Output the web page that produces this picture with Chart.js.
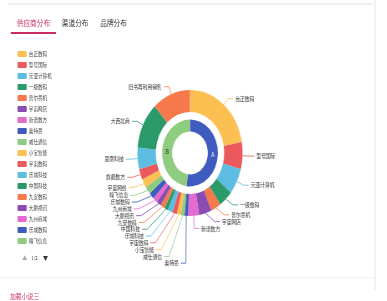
<!DOCTYPE html>
<html><head><meta charset="utf-8">
<script src="https://cdn.jsdelivr.net/npm/chart.js@4.4.1/dist/chart.umd.min.js"></script>
<style>
html,body{margin:0;padding:0;background:#fff;overflow:hidden;width:387px;height:301px}
#wrap{position:absolute;left:0;top:0;width:464px;height:301px;transform:scaleX(0.835);transform-origin:0 0;font-family:"Noto Sans CJK SC","Noto Sans",sans-serif;color:#333}
.abs{position:absolute}
#topline{left:10px;top:3px;width:436px;height:2px;background:#eeeeee}
#rightline{left:448px;top:0;width:2px;height:290px;background:#f0f0f0}
#botline{left:0;top:277px;width:448px;height:1px;background:#f0f0f0}
.tab{top:18px;font-size:8px;line-height:10px;white-space:nowrap}
#under{left:13px;top:32px;width:54px;height:1.5px;background:#c92f5e}
.lg{left:21px;width:11px;height:6px;border-radius:1px}
.lt{left:34.5px;font-size:5.5px;line-height:7px;white-space:nowrap;color:#444}
.pg{font-size:6px;line-height:8px;white-space:nowrap}
#bottom{left:12px;top:291px;font-size:7px;line-height:10px;color:#c92f5e;white-space:nowrap}
canvas{position:absolute;left:0;top:0}
</style></head>
<body><div id="wrap">
<div id="topline" class="abs"></div>
<div id="rightline" class="abs"></div>
<div id="botline" class="abs"></div>
<div id="tabs"></div>
<div id="under" class="abs"></div>
<div id="legend"></div>
<div id="bottom" class="abs">加载小说三</div>
<canvas id="c" width="464" height="301" style="width:464px;height:301px"></canvas>
</div>
<script>
// ---- data ----
const tabNames = ["供应商分布", "渠道分布", "品牌分布"];
const categories = ["台正数码","型号国际","元亚计算机","一级数码","普尔曼机","宇宙网店","新谱数方","奥特曼","威仕通信","小宝智能","宇宙数码","乐城科技","中国科技","九安数码","大鹏视讯","九州商城","乐城数码","翰飞信息","宇宙网络","旗舰数方","思南科技","大西北商","旧书再利用销售"];
const values = [800,250,240,160,110,140,120,40,40,45,50,55,40,50,50,50,60,70,80,100,200,430,420];
const innerCategories = ["A","B"];
const innerValues = [187,173];
const palette = ["#fcc052","#ea5a5c","#5cbde0","#2b9a6b","#f6794b","#8a4bb2","#e46bcd","#3f5bbf","#8fcc7f"];
const innerColors = ["#3f5bbf","#8fcc7f"];
const legendPageSize = 18;
const pagerText = "1/2";

const colors = categories.map((_, i) => palette[i % palette.length]);

// ---- tabs & legend (HTML) ----
const tabX = [20, 74, 120];
const tabs = document.getElementById('tabs');
tabNames.forEach((t, i) => {
  const d = document.createElement('div');
  d.className = 'abs tab'; d.style.left = tabX[i] + 'px';
  d.style.color = i === 0 ? '#c92f5e' : '#333';
  d.textContent = t; tabs.appendChild(d);
});
const legend = document.getElementById('legend');
for (let i = 0; i < Math.min(legendPageSize, categories.length); i++) {
  const y = 54.3 + i * 11.0;
  const b = document.createElement('div');
  b.className = 'abs lg'; b.style.top = (y - 3) + 'px'; b.style.background = colors[i];
  legend.appendChild(b);
  const t = document.createElement('div');
  t.className = 'abs lt'; t.style.top = (y - 3.5) + 'px'; t.textContent = categories[i];
  legend.appendChild(t);
}
const py = 54.3 + legendPageSize * 11.0 + 6;
[["▲", 26.5, "#aaa", 6], [pagerText, 37.5, "#333", 5], ["▼", 51.5, "#333", 6]].forEach(([s, x, c, f]) => {
  const e = document.createElement('div');
  e.className = 'abs pg'; e.style.left = x + 'px'; e.style.top = (py - 4) + 'px';
  e.style.color = c; e.style.fontSize = f + 'px'; e.textContent = s;
  legend.appendChild(e);
});

// ---- chart ----
const L1 = 8, L2 = 6, GAP = 2.5, LH = 6.8, FONT = 5.7;
const labelPlugin = {
  id: 'pieLabels',
  afterDatasetsDraw(chart) {
    const ctx = chart.ctx;
    const arcs = chart.getDatasetMeta(0).data;
    const cx = arcs[0].x, cy = arcs[0].y, r = arcs[0].outerRadius;
    const items = arcs.map((a, i) => {
      const mid = (a.startAngle + a.endAngle) / 2, ux = Math.cos(mid), uy = Math.sin(mid);
      const dir = ux < 0 ? -1 : 1;
      return { i, dir, p0x: cx + ux * r, p0y: cy + uy * r, x: cx + ux * (r + L1) + dir * L2, y: cy + uy * (r + L1) };
    });
    for (const side of [-1, 1]) {
      const list = items.filter(t => t.dir === side).sort((a, b) => a.y - b.y);
      let last = -Infinity, adjusted = false;
      for (const t of list) {
        const top = t.y - LH / 2;
        if (top < last) { t.y += last - top; adjusted = true; }
        last = t.y + LH / 2;
      }
      if (adjusted && list.length > 1) {
        const rA = r + L1;
        const semis = [{ list: [], maxY: 0, rB: rA }, { list: [], maxY: 0, rB: rA }];
        for (const t of list) {
          const s = t.y > cy ? semis[1] : semis[0];
          const dy = Math.abs(t.y - cy);
          if (dy >= s.maxY) {
            const dx = t.x - cx - L2 * side;
            s.rB = Math.abs(dx) < rA ? Math.sqrt(dy * dy / (1 - dx * dx / rA / rA)) : rA;
            if (!(s.rB >= dy)) s.rB = Math.max(dy, rA);
            s.maxY = dy;
          }
          s.list.push(t);
        }
        for (const s of semis) for (const t of s.list) {
          const dy = Math.abs(t.y - cy);
          const dx = Math.sqrt(Math.max(0, 1 - dy * dy / (s.rB * s.rB)) * rA * rA);
          t.x = cx + (dx + L2) * side;
        }
      }
    }
    ctx.save();
    ctx.lineWidth = 0.8;
    ctx.font = FONT + 'px "Noto Sans CJK SC"';
    ctx.textBaseline = 'middle';
    items.forEach(t => {
      ctx.strokeStyle = colors[t.i];
      ctx.beginPath();
      ctx.moveTo(t.p0x, t.p0y);
      ctx.lineTo(t.x - t.dir * L2, t.y);
      ctx.lineTo(t.x, t.y);
      ctx.stroke();
      ctx.fillStyle = '#333';
      ctx.textAlign = t.dir < 0 ? 'right' : 'left';
      ctx.fillText(categories[t.i], t.x + t.dir * GAP, t.y);
    });
    // inner labels
    const inner = chart.getDatasetMeta(2).data;
    ctx.font = '6px "Noto Sans CJK SC"';
    ctx.textAlign = 'center';
    inner.forEach((a, i) => {
      const mid = (a.startAngle + a.endAngle) / 2, rr = (a.innerRadius + a.outerRadius) / 2;
      ctx.fillStyle = i === 0 ? '#fff' : '#333';
      ctx.fillText(innerCategories[i], a.x + Math.cos(mid) * rr, a.y + Math.sin(mid) * rr);
    });
    ctx.restore();
  }
};

const cxU = 227.5, cyU = 153, R = 63, W = 464, H = 301;
new Chart(document.getElementById('c'), {
  type: 'doughnut',
  data: {
    labels: categories,
    datasets: [
      { data: values, backgroundColor: colors, borderWidth: 0, weight: 22, hoverOffset: 0, offset: 0 },
      { data: [1], backgroundColor: ['rgba(0,0,0,0)'], borderWidth: 0, weight: 7.5, hoverOffset: 0, offset: 0 },
      { data: innerValues, backgroundColor: innerColors, borderWidth: 0, weight: 12, hoverOffset: 0, offset: 0 }
    ]
  },
  options: {
    responsive: false, animation: false, devicePixelRatio: 1, events: [],
    cutout: '34%',
    layout: { padding: { left: cxU - R, top: cyU - R, right: W - cxU - R, bottom: H - cyU - R } },
    plugins: { legend: { display: false }, tooltip: { enabled: false } }
  },
  plugins: [labelPlugin]
});
</script>
</body></html>
